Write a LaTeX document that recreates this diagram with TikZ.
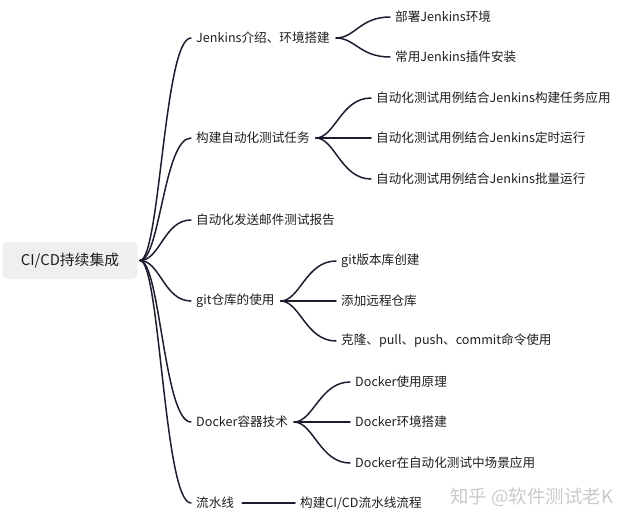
\documentclass[tikz,border=0pt]{standalone}
\usepackage{fontspec}
\usetikzlibrary{calc}
\setmainfont{Noto Sans CJK SC}
\definecolor{ink}{HTML}{1C1E30}
\definecolor{rootbg}{HTML}{EFEFEF}
\definecolor{txt}{HTML}{1E1E1E}
\definecolor{wm}{HTML}{CACACA}
\begin{document}
\begin{tikzpicture}[x=1pt,y=-1pt,
  lab/.style={anchor=west,inner xsep=5pt,inner ysep=2pt,font=\fontsize{12.6}{14}\selectfont,text=txt},
  rootbox/.style={fill=rootbg,rounded corners=5pt,minimum width=135pt,minimum height=37pt,font=\fontsize{14.8}{17}\selectfont,text=txt,inner sep=0pt},
  conn/.style={draw=ink,line width=1.5pt,line cap=round}]
\useasboundingbox (0,0) rectangle (631,525);
\node[rootbox] (root) at (70,260.5) {CI/CD持续集成};
\coordinate (r0) at (140,260.5);
% level 1
\node[lab] (a) at (191,38) {Jenkins介绍、环境搭建};
\node[lab] (b) at (191,138) {构建自动化测试任务};
\node[lab] (c) at (191,220) {自动化发送邮件测试报告};
\node[lab] (d) at (191,301) {git仓库的使用};
\node[lab] (e) at (191,422) {Docker容器技术};
\node[lab] (f) at (191,503) {流水线};
\foreach \n in {a,b,c,d,e,f}{
  \draw[conn] (r0) .. controls (160,260.5) and ($(\n.west)+(-27,0)$) .. (\n.west);
}
% level 2
\node[lab] (a1) at (390,17) {部署Jenkins环境};
\node[lab] (a2) at (390,57) {常用Jenkins插件安装};
\node[lab] (b1) at (371,98) {自动化测试用例结合Jenkins构建任务应用};
\node[lab] (b2) at (371,138) {自动化测试用例结合Jenkins定时运行};
\node[lab] (b3) at (371,179) {自动化测试用例结合Jenkins批量运行};
\node[lab] (d1) at (336,261) {git版本库创建};
\node[lab] (d2) at (336,301) {添加远程仓库};
\node[lab] (d3) at (336,341) {克隆、pull、push、commit命令使用};
\node[lab] (e1) at (350,382) {Docker使用原理};
\node[lab] (e2) at (350,422) {Docker环境搭建};
\node[lab] (e3) at (350,463) {Docker在自动化测试中场景应用};
\node[lab] (f1) at (295,503) {构建CI/CD流水线流程};
\foreach \p/\c in {a/a1,a/a2,b/b1,b/b2,b/b3,d/d1,d/d2,d/d3,e/e1,e/e2,e/e3}{
  \draw[conn] ($(\p.east)+(1,0)$) .. controls ($(\p.east)+(20,0)$) and ($(\c.west)+(-30,0)$) .. (\c.west);
}
\draw[conn] ($(f.east)+(3,0)$) -- (f1.west);
\node[anchor=west,text=wm,font=\fontsize{18.5}{20}\selectfont,inner sep=0pt] (wmk) at (450,497) {知乎 @软件测试老K};
\end{tikzpicture}
\end{document}
